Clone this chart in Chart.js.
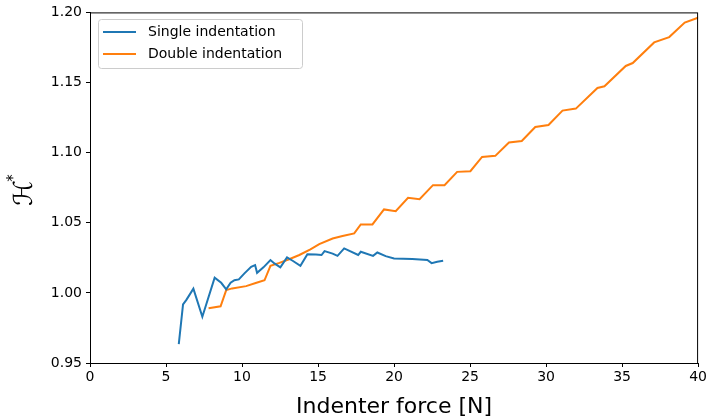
<!DOCTYPE html>
<html>
<head>
<meta charset="utf-8">
<script src="https://cdn.jsdelivr.net/npm/chart.js@4"></script>
<style>
  html, body { margin: 0; padding: 0; background: #fff; }
  #wrap { width: 709px; height: 419px; position: relative; }
</style>
</head>
<body>
<div id="wrap"><canvas id="hChart"></canvas></div>
<script>
// dados
const singleForce = [5.84, 6.12, 6.34, 6.8, 7.39, 8.2, 8.63, 8.96, 9.25, 9.5, 9.79, 10.16, 10.6, 10.86, 10.99,
    11.41, 11.87, 12.13, 12.52, 12.96, 13.33, 13.84, 14.3, 14.86, 15.23, 15.43, 15.96, 16.28, 16.72,
    17.64, 17.81, 18.62, 18.9, 19.45, 20.0, 21.2, 22.19, 22.47, 22.84, 23.23];
const singleH = [0.9635, 0.9918, 0.995, 1.003, 0.983, 1.0108, 1.0072, 1.0025, 1.0072, 1.009, 1.0096, 1.0139, 1.0186, 1.0198, 1.0143,
    1.0182, 1.0234, 1.021, 1.0182, 1.0253, 1.0229, 1.0193, 1.0276, 1.0274, 1.027, 1.0298, 1.028, 1.0264, 1.0317,
    1.027, 1.0293, 1.0264, 1.0288, 1.0262, 1.0246, 1.0241, 1.0234, 1.0212, 1.0222, 1.0229];

const doubleForce = [7.8, 8.59, 8.96, 9.35, 10.27, 10.9, 11.48, 11.87, 12.46, 13.1, 13.77, 14.5, 15.08, 15.96,
    16.61, 17.38, 17.81, 18.58, 19.34, 20.11, 20.92, 21.68, 22.56, 23.32, 24.15, 25.02, 25.79, 26.66,
    27.56, 28.4, 29.29, 30.16, 31.08, 31.96, 33.38, 33.84, 35.24, 35.7, 37.11, 38.1, 39.12, 40.2];
const doubleH = [0.989, 0.9904, 1.002, 1.0032, 1.0048, 1.007, 1.009, 1.0193, 1.0214, 1.024, 1.027, 1.031, 1.0348, 1.0388,
    1.0405, 1.0424, 1.0488, 1.0488, 1.0595, 1.0583, 1.0678, 1.0668, 1.0768, 1.0768, 1.0863, 1.0868, 1.0969, 1.0977,
    1.1072, 1.1083, 1.1183, 1.1197, 1.13, 1.1314, 1.1461, 1.1473, 1.1618, 1.1639, 1.1786, 1.1824, 1.1927, 1.197];

const xTicks = [0, 5, 10, 15, 20, 25, 30, 35, 40];
const yTicks = [0.95, 1.00, 1.05, 1.10, 1.15, 1.20];
const seriesLabels = ['Single indentation', 'Double indentation'];

const toPoints = (xs, ys) => xs.map((x, i) => ({ x: x, y: ys[i] }));

const FONT = "'DejaVu Sans', sans-serif";

// moldura, titulos e legenda desenhados a mao
const extras = {
    id: 'extras',
    afterDraw(chart) {
        const ctx = chart.ctx;
        const a = chart.chartArea;
        ctx.save();
        ctx.strokeStyle = '#000';
        ctx.lineWidth = 1;
        ctx.strokeRect(a.left + 0.5, a.top + 0.5, a.right - a.left - 1, a.bottom - a.top);

        // titulo eixo x
        ctx.fillStyle = '#000';
        ctx.font = '22px ' + FONT;
        ctx.textAlign = 'center';
        ctx.textBaseline = 'alphabetic';
        ctx.fillText('Indenter force [N]', (a.left + a.right) / 2, 413);

        // titulo eixo y (H caligrafico com asterisco)
        ctx.translate(32, 190);
        ctx.rotate(-Math.PI / 2);
        ctx.font = 'italic 26px ' + FONT;
        ctx.textAlign = 'center';
        ctx.fillText('\u210B', -3, 0);
        ctx.font = '15px ' + FONT;
        ctx.fillText('*', 12, -14);
        ctx.restore();

        // legenda
        ctx.save();
        const bx = 98, by = 19, bw = 204, bh = 49;
        ctx.fillStyle = 'rgba(255,255,255,0.8)';
        ctx.strokeStyle = '#cccccc';
        ctx.lineWidth = 1;
        ctx.beginPath();
        ctx.roundRect(bx + 0.5, by + 0.5, bw, bh, 3);
        ctx.fill();
        ctx.stroke();
        chart.data.datasets.forEach((ds, i) => {
            const ly = 32 + i * 22;
            ctx.strokeStyle = ds.borderColor;
            ctx.lineWidth = 2;
            ctx.beginPath();
            ctx.moveTo(103, ly);
            ctx.lineTo(136, ly);
            ctx.stroke();
            ctx.fillStyle = '#000';
            ctx.font = '14px ' + FONT;
            ctx.textAlign = 'left';
            ctx.textBaseline = 'middle';
            ctx.fillText(ds.label, 148, ly);
        });
        ctx.restore();
    }
};

const hCtx = document.getElementById('hChart').getContext('2d');
const hChart = new Chart(hCtx, {
    type: 'line',
    data: {
        datasets: [{
            label: seriesLabels[0],
            data: toPoints(singleForce, singleH),
            borderColor: '#1f77b4',
            borderWidth: 2,
            pointRadius: 0,
            tension: 0
        }, {
            label: seriesLabels[1],
            data: toPoints(doubleForce, doubleH),
            borderColor: '#ff7f0e',
            borderWidth: 2,
            pointRadius: 0,
            tension: 0
        }]
    },
    options: {
        responsive: true,
        maintainAspectRatio: false,
        animation: false,
        layout: { padding: { top: 12, right: 9, left: 0, bottom: 0 } },
        plugins: { legend: { display: false }, tooltip: { enabled: false } },
        scales: {
            x: {
                type: 'linear',
                min: 0,
                max: 40,
                afterBuildTicks: s => { s.ticks = xTicks.map(v => ({ value: v })); },
                afterFit: s => { s.height = 56; },
                grid: { display: true, drawOnChartArea: false, tickLength: 4, color: '#000' },
                border: { color: '#000', width: 1 },
                ticks: { color: '#000', font: { family: FONT, size: 14 }, padding: 2, maxRotation: 0,
                    callback: v => String(v) }
            },
            y: {
                min: 0.95,
                max: 1.20,
                afterBuildTicks: s => { s.ticks = yTicks.map(v => ({ value: v })); },
                afterFit: s => { s.width = 90; },
                grid: { display: true, drawOnChartArea: false, tickLength: 4, color: '#000' },
                border: { color: '#000', width: 1 },
                ticks: { color: '#000', font: { family: FONT, size: 14 }, padding: 4,
                    callback: v => Number(v).toFixed(2) }
            }
        }
    },
    plugins: [extras]
});
</script>
</body>
</html>
